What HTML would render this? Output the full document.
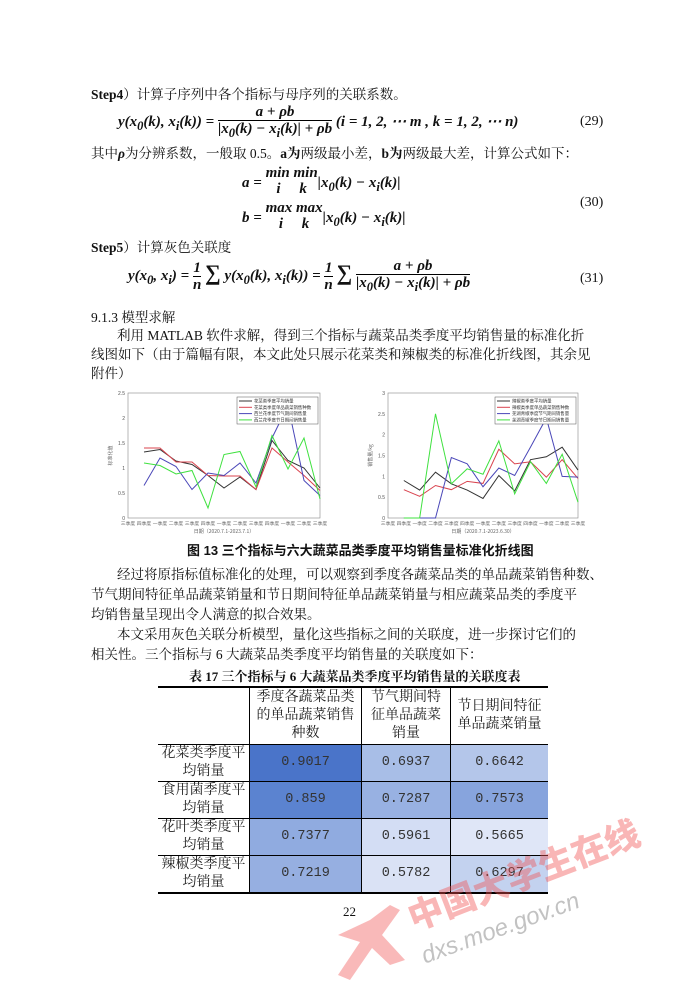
<!DOCTYPE html>
<html><head><meta charset="utf-8"><style>
body{margin:0;background:#fff;}
#page{position:relative;width:700px;height:989px;overflow:hidden;background:#fff;font-family:"Liberation Serif","Noto Serif CJK SC",serif;color:#111;font-size:13.5px;}
.t{position:absolute;white-space:nowrap;line-height:16px;}
.b{font-weight:bold;}
.m{font-family:"Liberation Serif",serif;font-style:italic;font-weight:bold;font-size:15px;}
.frac{display:inline-block;vertical-align:middle;text-align:center;}
.frac span{display:block;}
.frac .d{border-top:1.3px solid #000;}
table{position:absolute;left:158px;top:686px;border-collapse:collapse;border-top:2px solid #000;border-bottom:2px solid #000;font-size:14px;color:#222;}
td{border:1px solid #000;text-align:center;line-height:18px;padding:0;}
tr td:first-child{border-left:none;}
tr td:last-child{border-right:none;}
.v{font-family:"Liberation Mono","Noto Serif CJK SC",monospace;font-size:13.5px;color:#333;}
</style></head><body>
<div id="page">
<div class="t" style="left:91px;top:87px"><b>Step4</b>）计算子序列中各个指标与母序列的关联系数。</div>
<div class="t m" style="left:118px;top:104px">y(x<sub>0</sub>(k), x<sub>i</sub>(k)) = <span class="frac"><span>a + ρb</span><span class="d">|x<sub>0</sub>(k) − x<sub>i</sub>(k)| + ρb</span></span> (i = 1, 2, ⋯ m , k = 1, 2, ⋯ n)</div>
<div class="t" style="left:580px;top:114px;font-size:14px">(29)</div>
<div class="t" style="left:91px;top:146px">其中<b><i>ρ</i></b>为分辨系数，一般取 0.5。<b>a为</b>两级最小差，<b>b为</b>两级最大差，计算公式如下：</div>
<div class="t m" style="left:242px;top:175px">a = <span class="frac" style="vertical-align:top;margin-top:-10px"><span>min min</span><span>i &nbsp;&nbsp;&nbsp; k</span></span>|x<sub>0</sub>(k) − x<sub>i</sub>(k)|</div>
<div class="t m" style="left:242px;top:210px">b = <span class="frac" style="vertical-align:top;margin-top:-10px"><span>max max</span><span>i &nbsp;&nbsp;&nbsp; k</span></span>|x<sub>0</sub>(k) − x<sub>i</sub>(k)|</div>
<div class="t" style="left:580px;top:195px;font-size:14px">(30)</div>
<div class="t" style="left:91px;top:240px"><b>Step5</b>）计算灰色关联度</div>
<div class="t m" style="left:128px;top:258px">y(x<sub>0</sub>, x<sub>i</sub>) = <span class="frac"><span>1</span><span class="d">n</span></span> <span style="font-size:22px;font-style:normal">∑</span> y(x<sub>0</sub>(k), x<sub>i</sub>(k)) = <span class="frac"><span>1</span><span class="d">n</span></span> <span style="font-size:22px;font-style:normal">∑</span> <span class="frac"><span>a + ρb</span><span class="d">|x<sub>0</sub>(k) − x<sub>i</sub>(k)| + ρb</span></span></div>
<div class="t" style="left:580px;top:271px;font-size:14px">(31)</div>
<div class="t" style="left:91px;top:310px">9.1.3 模型求解</div>
<div class="t" style="left:117px;top:328px">利用 MATLAB 软件求解，得到三个指标与蔬菜品类季度平均销售量的标准化折</div>
<div class="t" style="left:91px;top:347px">线图如下（由于篇幅有限，本文此处只展示花菜类和辣椒类的标准化折线图，其余见</div>
<div class="t" style="left:91px;top:366px">附件）</div>

<svg id="charts" style="position:absolute;left:0;top:0" width="700" height="989"></svg>

<div class="t b" style="left:187px;top:543px;font-size:13px;font-family:'Liberation Sans','Noto Sans CJK SC',sans-serif">图 13 三个指标与六大蔬菜品类季度平均销售量标准化折线图</div>
<div class="t" style="left:117px;top:567px">经过将原指标值标准化的处理，可以观察到季度各蔬菜品类的单品蔬菜销售种数、</div>
<div class="t" style="left:91px;top:587px">节气期间特征单品蔬菜销量和节日期间特征单品蔬菜销量与相应蔬菜品类的季度平</div>
<div class="t" style="left:91px;top:607px">均销售量呈现出令人满意的拟合效果。</div>
<div class="t" style="left:117px;top:627px">本文采用灰色关联分析模型，量化这些指标之间的关联度，进一步探讨它们的</div>
<div class="t" style="left:91px;top:647px">相关性。三个指标与 6 大蔬菜品类季度平均销售量的关联度如下：</div>
<div class="t b" style="left:189px;top:669px;font-size:13px">表 17 三个指标与 6 大蔬菜品类季度平均销售量的关联度表</div>

<table>
<tr style="height:57px"><td style="width:91px"></td><td style="width:111px">季度各蔬菜品类<br>的单品蔬菜销售<br>种数</td><td style="width:88px">节气期间特<br>征单品蔬菜<br>销量</td><td style="width:97px">节日期间特征<br>单品蔬菜销量</td></tr>
<tr style="height:37px"><td>花菜类季度平<br>均销量</td><td class="v" style="background:#4a74c9">0.9017</td><td class="v" style="background:#a8bee7">0.6937</td><td class="v" style="background:#b4c6ea">0.6642</td></tr>
<tr style="height:37px"><td>食用菌季度平<br>均销量</td><td class="v" style="background:#5b83d0">0.859</td><td class="v" style="background:#98b1e2">0.7287</td><td class="v" style="background:#87a4dd">0.7573</td></tr>
<tr style="height:37px"><td>花叶类季度平<br>均销量</td><td class="v" style="background:#90abe0">0.7377</td><td class="v" style="background:#d3ddf4">0.5961</td><td class="v" style="background:#dfe6f7">0.5665</td></tr>
<tr style="height:37px"><td>辣椒类季度平<br>均销量</td><td class="v" style="background:#96afe1">0.7219</td><td class="v" style="background:#dae2f5">0.5782</td><td class="v" style="background:#c3d2ef">0.6297</td></tr>
</table>
<div class="t" style="left:343px;top:904px;font-size:13px">22</div>

<div style="position:absolute;left:0;top:0;width:700px;height:989px;pointer-events:none">
<div class="t" style="left:402px;top:900px;font-family:'Noto Sans CJK SC',sans-serif;font-weight:900;font-size:35px;line-height:38px;color:rgba(240,80,80,0.42);transform:rotate(-21deg);transform-origin:left top">中国大学生在线</div>
<div class="t" style="left:418px;top:945px;font-family:'Liberation Sans',sans-serif;font-style:italic;font-size:24px;line-height:26px;color:rgba(120,120,120,0.45);transform:rotate(-20deg);transform-origin:left top">dxs.moe.gov.cn</div>
<svg style="position:absolute;left:330px;top:900px" width="80" height="85"><path d="M8 35 L40 20 L60 5 L70 10 L52 35 L75 60 L60 65 L42 48 L20 80 L8 75 L30 42 Z" fill="rgba(240,80,80,0.4)"/></svg>
</div>
</div>
<script>
const cats=["三季度","四季度","一季度","二季度","三季度","四季度","一季度","二季度","三季度","四季度","一季度","二季度","三季度"];
const c1Black=[1.32,1.37,1.14,1.07,0.85,0.6,0.82,0.57,1.55,1.15,1.0,0.6];
const c1Red=[1.4,1.4,1.12,1.12,0.85,0.84,0.84,0.57,1.4,1.12,0.85,0.55];
const c1Blue=[0.65,1.2,1.03,0.57,0.9,0.85,1.1,0.7,1.6,2.25,0.75,0.45];
const c1Green=[1.1,1.05,0.88,0.95,0.2,1.27,1.33,0.62,1.65,0.98,1.6,0.38];
const c1Ticks=["0","0.5","1","1.5","2","2.5"];
const c1Legend=["花菜类季度平均销量","花菜类季度单品蔬菜销售种数","西兰花季度节气期间销售量","西兰花季度节日期间销售量"];
const c2Black=[0.9,0.67,1.1,0.82,0.67,0.47,1.02,0.65,1.4,1.47,1.7,1.15];
const c2Red=[0.68,0.52,0.78,0.68,0.88,0.83,1.65,1.3,1.35,0.98,1.4,0.95];
const c2Blue=[0,0,0,1.45,1.3,0.75,1.2,1.02,1.7,2.4,1.0,0.98];
const c2Green=[0,0,2.5,0.82,1.18,1.05,1.85,0.58,1.35,0.83,1.53,0.38];
const c2Ticks=["0","0.5","1","1.5","2","2.5","3"];
const c2Legend=["辣椒类季度平均销量","辣椒类季度单品蔬菜销售种数","芜湖青椒季度节气期间销售量","芜湖青椒季度节日期间销售量"];
const NS="http://www.w3.org/2000/svg";
const svg=document.getElementById('charts');
function mk(tag,attrs,parent){const e=document.createElementNS(NS,tag);for(const k in attrs)e.setAttribute(k,attrs[k]);(parent||svg).appendChild(e);return e;}
function chart(name,L,R,T,B,ymax,ticks,series,legend,ylabel,xlabel){
  const g=mk('g',{});
  
  
  const xs=i=>L+(R-L)*i/(cats.length-1);
  const ys=v=>B-(B-T)*v/ymax;
  const fr=mk('rect',{x:L,y:T,width:R-L,height:B-T,fill:'none',stroke:'#888','stroke-width':0.6},g);
  
  
  ticks.forEach((t,i)=>{const v=parseFloat(t);
    const tl=mk('text',{x:L-3,y:ys(v)+2,'text-anchor':'end','font-size':5,fill:'#555','font-family':'Liberation Sans'},g);tl.textContent=t;
    
    });
  cats.forEach((c,i)=>{const tl=mk('text',{x:xs(i),y:B+7,'text-anchor':'middle','font-size':4.8,fill:'#666','font-family':'Noto Sans CJK SC'},g);tl.textContent=c;
    
    });
  const xl=mk('text',{x:(L+R)/2,y:B+15,'text-anchor':'middle','font-size':5,fill:'#666','font-family':'Noto Sans CJK SC'},g);xl.textContent=xlabel;
  
  
  const yl=mk('text',{x:L-16,y:(T+B)/2,'text-anchor':'middle','font-size':5,fill:'#666','font-family':'Noto Sans CJK SC',transform:`rotate(-90 ${L-16} ${(T+B)/2})`},g);yl.textContent=ylabel;
  
  
  const cols=['#333','#d9434e','#4a47b8','#3fe13f'];
  series.forEach((s,si)=>{const pts=s.map((v,i)=>xs(i+1)+','+Math.max(T,ys(v))).join(' ');
    const pl=mk('polyline',{points:pts,fill:'none',stroke:cols[si],'stroke-width':1},g);
    
    });
  const lx=R-83,ly=T+4;
  const lb=mk('rect',{x:lx,y:ly,width:81,height:27,fill:'#fff',stroke:'#555','stroke-width':0.5},g);
  
  
  legend.forEach((t,i)=>{const yy=ly+4+i*6.3;
    const ln=mk('line',{x1:lx+2,x2:lx+15,y1:yy,y2:yy,stroke:cols[i],'stroke-width':1},g);
    
    
    const tx=mk('text',{x:lx+17,y:yy+1.6,'font-size':4.4,fill:'#333','font-family':'Noto Sans CJK SC'},g);tx.textContent=t;
    
    });
}
chart('chart-cauliflower',128,320,393,518,2.5,c1Ticks,[c1Black,c1Red,c1Blue,c1Green],c1Legend,'标准化值','日期（2020.7.1-2023.7.1）');
chart('chart-pepper',388,578,393,518,3,c2Ticks,[c2Black,c2Red,c2Blue,c2Green],c2Legend,'销售量/kg','日期（2020.7.1-2023.6.30）');
</script>
</body></html>
